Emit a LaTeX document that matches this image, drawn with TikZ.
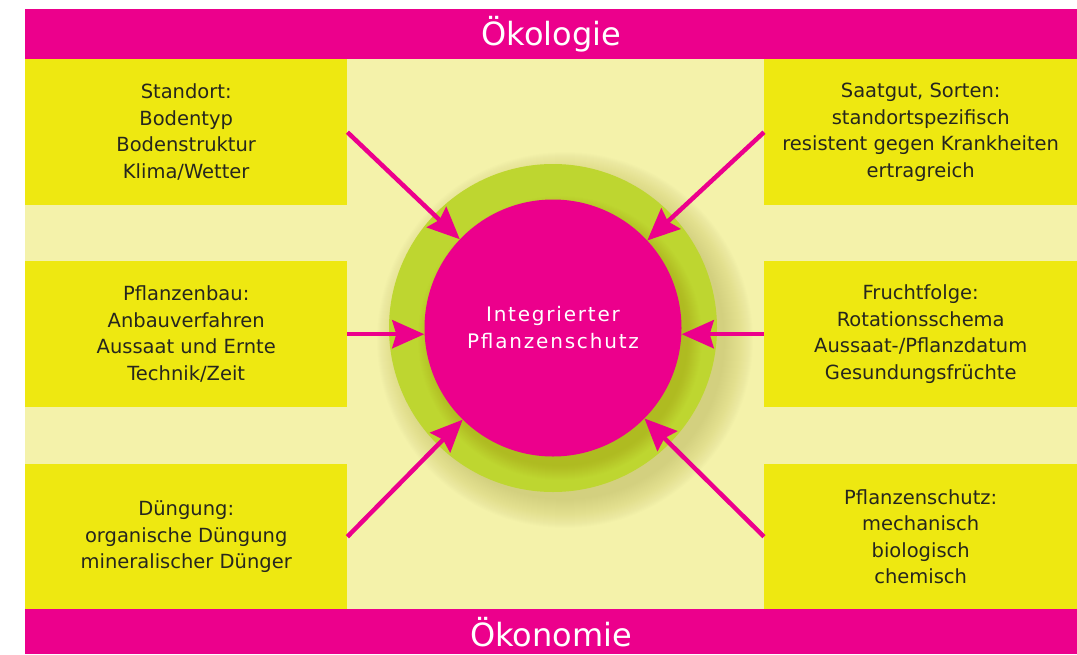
\documentclass[tikz,border=0pt]{standalone}
\usepackage{fontspec}
\setmainfont{DejaVu Sans}
\newfontfamily\spacedfont[LetterSpace=9]{DejaVu Sans}
\usetikzlibrary{arrows.meta}
\definecolor{magentabar}{HTML}{EC008C}
\definecolor{paleyellow}{HTML}{F4F2AA}
\definecolor{boxyellow}{HTML}{EEE811}
\definecolor{ringgreen}{HTML}{BED630}
\definecolor{shadowolive}{HTML}{6E6A10}
\definecolor{textdark}{HTML}{26261E}

\begin{document}
\begin{tikzpicture}[x=1pt,y=-1pt,
  bar/.style={fill=magentabar, draw=none, inner sep=0pt, anchor=north west,
    minimum width=1052pt, text=white, font=\fontsize{32}{36}\selectfont},
  infobox/.style={fill=boxyellow, draw=none, inner sep=0pt, align=center,
    anchor=north west, minimum height=146pt, text=textdark,
    font=\fontsize{19.5}{26.5}\selectfont},
  link/.style={draw=magentabar, line width=4.5pt,
    -{Stealth[length=32pt,width=28pt,inset=4pt]}},
]
\useasboundingbox (0,0) rectangle (1077,654);

% pale field between the two bars
\fill[paleyellow] (25,59) rectangle (1077,609);

% top and bottom bars
\node[bar, minimum height=50pt] (oeko) at (25,9) {Ökologie};
\node[bar, minimum height=45pt] (oekon) at (25,609) {Ökonomie};

% soft halo around the ring, falling to the lower right
\foreach \r in {160,...,188}
  \fill[shadowolive, opacity=0.009] (565,340) circle (\r);

% green ring
\node[circle, fill=ringgreen, inner sep=0pt, minimum size=328pt] (ring) at (553,328) {};

% inner shade on the ring below the centre circle
\begin{scope}
  \clip (553,328) circle (164);
  \foreach \r in {128,...,142}
    \fill[shadowolive, opacity=0.01] (560,338) circle (\r);
\end{scope}

% centre circle
\node[circle, fill=magentabar, inner sep=0pt, minimum size=257pt, align=center,
  text=white, font=\spacedfont\fontsize{20}{27}\selectfont] (core) at (553,328)
  {Integrierter\\Pflanzenschutz};

% left column
\node[infobox, minimum width=322pt] (tl) at (25,59)
  {Standort:\\Bodentyp\\Bodenstruktur\\Klima/Wetter};
\node[infobox, minimum width=322pt] (ml) at (25,261)
  {Pflanzenbau:\\Anbauverfahren\\Aussaat und Ernte\\Technik/Zeit};
\node[infobox, minimum width=322pt, minimum height=145pt] (bl) at (25,464)
  {Düngung:\\organische Düngung\\mineralischer Dünger};

% right column
\node[infobox, minimum width=313pt] (tr) at (764,59)
  {Saatgut, Sorten:\\standortspezifisch\\resistent gegen Krankheiten\\ertragreich};
\node[infobox, minimum width=313pt] (mr) at (764,261)
  {Fruchtfolge:\\Rotationsschema\\Aussaat-/Pflanzdatum\\Gesundungsfrüchte};
\node[infobox, minimum width=313pt, minimum height=145pt] (br) at (764,464)
  {Pflanzenschutz:\\mechanisch\\biologisch\\chemisch};

% connectors into the centre
\draw[link] (tl.east) -- (core);
\draw[link] (tr.west) -- (core);
\draw[link] (ml.east) -- (ml.east -| core.west);
\draw[link] (mr.west) -- (mr.west -| core.east);
\draw[link] (bl.east) -- (core);
\draw[link] (br.west) -- (core);
\end{tikzpicture}
\end{document}
